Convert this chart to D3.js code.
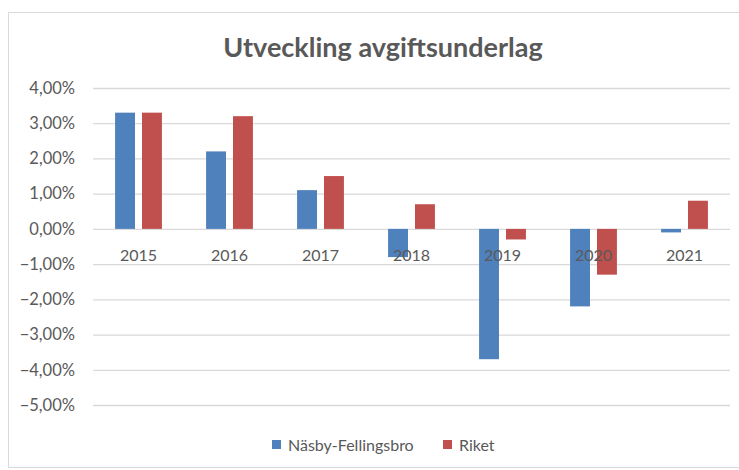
<!DOCTYPE html>
<html>
<head>
<meta charset="utf-8">
<script src="https://cdn.jsdelivr.net/npm/d3@7"></script>
<style>
  body { margin: 0; background: #fff; }
  svg { display: block; font-family: Lato, "Open Sans", sans-serif; }
</style>
</head>
<body>
<div id="chart"></div>
<script>
// Chart data
const years = ['2015', '2016', '2017', '2018', '2019', '2020', '2021'];
const seriesNames = ['Näsby-Fellingsbro', 'Riket'];
const nasby = [3.3, 2.2, 1.1, -0.8, -3.7, -2.2, -0.1];
const riket = [3.3, 3.2, 1.5, 0.7, -0.3, -1.3, 0.8];
const yTicks = [4, 3, 2, 1, 0, -1, -2, -3, -4, -5];
const colors = ['#4f81bd', '#c0504d'];

const width = 739, height = 470;
const margin = { top: 88, right: 9, bottom: 65, left: 93 };

const svg = d3.select('#chart').append('svg')
  .attr('width', width)
  .attr('height', height);

// Outer chart frame
svg.append('rect')
  .attr('x', 8.5).attr('y', 12.5)
  .attr('width', 740).attr('height', 455)
  .attr('fill', '#fff')
  .attr('stroke', '#d9d9d9');

// Title
svg.append('text')
  .attr('x', 383).attr('y', 57)
  .attr('text-anchor', 'middle')
  .attr('fill', '#595959')
  .attr('font-size', '27px')
  .attr('font-weight', '700')
  .text('Utveckling avgiftsunderlag');

const x = d3.scaleBand()
  .domain(years)
  .range([margin.left, width - margin.right]);

const xInner = d3.scaleBand()
  .domain(seriesNames)
  .range([0, x.bandwidth()])
  .paddingInner(0.26)
  .paddingOuter(0.82);

const y = d3.scaleLinear()
  .domain([-5, 4])
  .range([height - margin.bottom, margin.top]);

// Gridlines and y labels
const yAxis = d3.axisLeft(y)
  .tickValues(yTicks)
  .tickSize(-(width - margin.right - margin.left))
  .tickPadding(18)
  .tickFormat(d => d3.format('.2f')(d).replace('.', ',') + '%');

const gy = svg.append('g')
  .attr('transform', `translate(${margin.left},0)`)
  .call(yAxis);
gy.select('.domain').remove();
gy.selectAll('.tick line').attr('stroke', '#d9d9d9').attr('stroke-width', 1.3);
gy.selectAll('.tick text')
  .attr('fill', '#595959')
  .attr('font-size', '16.5px')
  .attr('font-family', 'Lato, "Open Sans", sans-serif');

// Bars
const rows = years.map((yr, i) => ({ year: yr, values: [nasby[i], riket[i]] }));

const groups = svg.append('g').selectAll('g')
  .data(rows)
  .join('g')
  .attr('transform', d => `translate(${x(d.year)},0)`);

groups.selectAll('rect')
  .data(d => d.values.map((v, j) => ({ name: seriesNames[j], value: v, idx: j })))
  .join('rect')
  .attr('x', d => xInner(d.name))
  .attr('width', xInner.bandwidth())
  .attr('y', d => y(Math.max(0, d.value)))
  .attr('height', d => Math.abs(y(d.value) - y(0)))
  .attr('fill', d => colors[d.idx]);

// Category labels (sit just below the zero line, drawn over bars)
svg.append('g').selectAll('text')
  .data(years)
  .join('text')
  .attr('x', d => x(d) + x.bandwidth() / 2)
  .attr('y', y(0) + 32)
  .attr('text-anchor', 'middle')
  .attr('fill', '#595959')
  .attr('font-size', '16px')
  .text(d => d);

// Legend
const legend = svg.append('g').attr('transform', 'translate(272,451)');
const legendX = [0, 171];
seriesNames.forEach((name, i) => {
  const lg = legend.append('g').attr('transform', `translate(${legendX[i]},0)`);
  lg.append('rect')
    .attr('x', 0).attr('y', -11)
    .attr('width', 9).attr('height', 9)
    .attr('fill', colors[i]);
  lg.append('text')
    .attr('x', 16).attr('y', 0)
    .attr('fill', '#595959')
    .attr('font-size', '16px')
    .text(name);
});
</script>
</body>
</html>
